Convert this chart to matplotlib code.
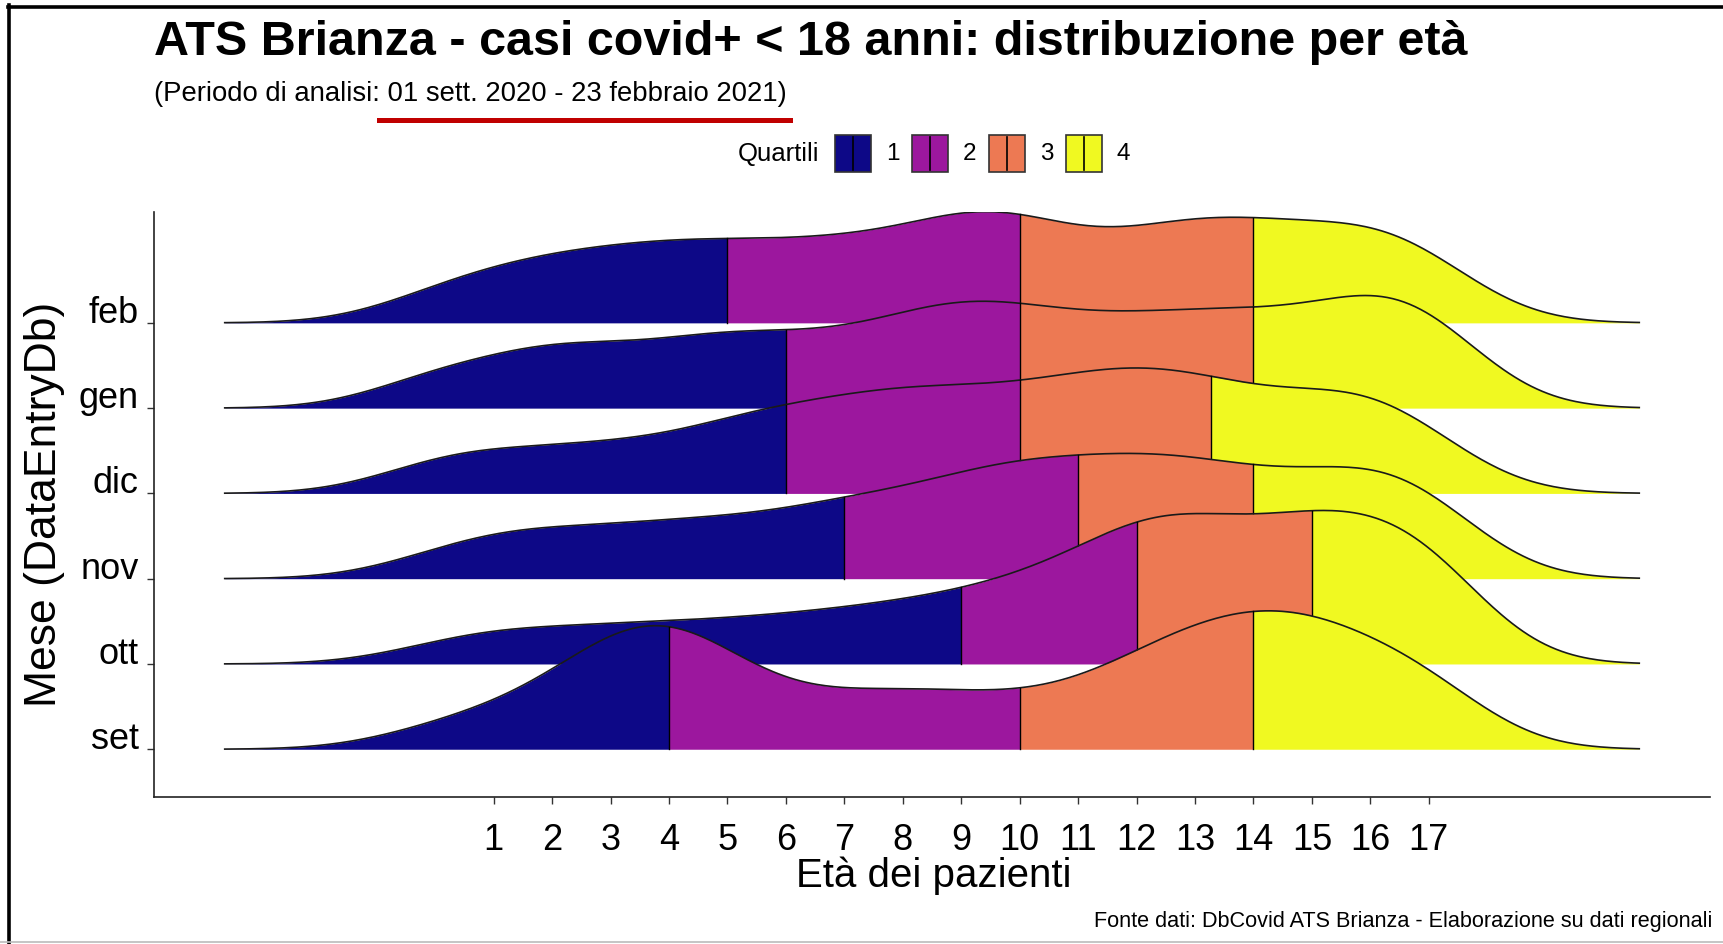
import numpy as np
import matplotlib
matplotlib.use('Agg')
import matplotlib.pyplot as plt
from matplotlib.patches import Rectangle
from matplotlib.lines import Line2D

plt.rcParams['font.family'] = ['Liberation Sans', 'DejaVu Sans']

# mesi dal basso verso l'alto
mesi = ['set', 'ott', 'nov', 'dic', 'gen', 'feb']
eta = np.arange(0, 18)

# quota di casi per eta' (0..17 anni), per mille, stimata dal grafico
casi_set = [23, 23, 38, 81, 109, 55, 25, 37, 41, 35, 32, 34, 62, 83, 88, 101, 52, 79]
casi_ott = [16, 27, 19, 28, 24, 29, 30, 34, 40, 42, 57, 60, 103, 111, 54, 128, 71, 127]
casi_nov = [22, 32, 35, 28, 41, 36, 39, 55, 51, 65, 82, 69, 83, 78, 65, 59, 80, 82]
casi_dic = [36, 26, 27, 37, 26, 52, 56, 57, 72, 64, 63, 76, 82, 82, 55, 58, 83, 46]
casi_gen = [42, 15, 63, 27, 42, 55, 45, 42, 58, 78, 66, 51, 62, 57, 70, 44, 86, 97]
casi_feb = [31, 33, 47, 46, 53, 54, 45, 60, 46, 79, 85, 36, 57, 73, 67, 52, 73, 62]
casi = [casi_set, casi_ott, casi_nov, casi_dic, casi_gen, casi_feb]

# quartili (1°, mediana, 3°) per mese
q_set = [4, 10, 14]
q_ott = [9, 12, 15]
q_nov = [7, 11, 14]
q_dic = [6, 10, 13.27]
q_gen = [6, 10, 14]
q_feb = [5, 10, 14]
quartili = [q_set, q_ott, q_nov, q_dic, q_gen, q_feb]

colori = ['#0D0887', '#9C179E', '#ED7953', '#F0F921']  # plasma, 4 livelli
bw = 1.2
scala = 1.8

W, H = 1724, 944
fig = plt.figure(figsize=(W / 100, H / 100), dpi=100)


def fx(x):
    return x / W


def fy(y):
    return 1 - y / H


ax = fig.add_axes([fx(154), fy(797), fx(1710) - fx(154), fy(212) - fy(797)])


def dens(x, q):
    w = np.asarray(q, float)
    w = w / w.sum()
    x = np.atleast_1d(np.asarray(x, float))
    k = np.exp(-0.5 * ((x[:, None] - eta[None, :]) / bw) ** 2)
    return (k * w[None, :]).sum(1) / (bw * np.sqrt(2 * np.pi))


lo, hi = eta.min() - 3 * bw, eta.max() + 3 * bw
griglia = np.linspace(lo, hi, 512)
gmax = max(dens(griglia, c).max() for c in casi)

for i, m in enumerate(mesi):
    base = i + 1
    z = 30 - 4 * i
    q = casi[i]

    def hfun(x, q=q):
        return dens(x, q) / gmax * scala

    lim = [lo] + quartili[i] + [hi]
    for k in range(4):
        a, b = lim[k], lim[k + 1]
        xk = np.concatenate([[a], griglia[(griglia > a) & (griglia < b)], [b]])
        ax.fill_between(xk, base, base + hfun(xk), color=colori[k], lw=0, zorder=z)
    ax.plot(griglia, base + hfun(griglia), color='#1a1a1a', lw=1.2, zorder=z + 1)
    for b in quartili[i]:
        ax.plot([b, b], [base, base + hfun(b)[0]], color='black', lw=1.0, zorder=z + 1)

pad = 0.05 * (hi - lo)
ax.set_xlim(lo - pad, hi + pad)
ax.set_ylim(0.44, 7.30)
ax.set_xticks(range(1, 18))
ax.set_yticks(range(1, 7))
ax.set_yticklabels(mesi)
for s in ['top', 'right']:
    ax.spines[s].set_visible(False)
for s in ['left', 'bottom']:
    ax.spines[s].set_linewidth(1.2)
    ax.spines[s].set_color('#222222')
ax.tick_params(axis='both', length=5, width=1, color='#333333', labelsize=26, labelcolor='black')
ax.tick_params(axis='x', pad=14)
ax.tick_params(axis='y', pad=6)
plt.setp(ax.get_yticklabels(), va='baseline')

fig.text(fx(154), fy(55), 'ATS Brianza - casi covid+ < 18 anni: distribuzione per età',
         fontsize=34.9, fontweight='bold', ha='left', va='baseline')
fig.text(fx(154), fy(101), '(Periodo di analisi: 01 sett. 2020 - 23 febbraio 2021)',
         fontsize=19.8, ha='left', va='baseline')
fig.add_artist(Line2D([fx(379), fx(790)], [fy(119.5), fy(119.5)], color='#C00000', lw=3.6))

fig.text(fx(819), fy(154), 'Quartili', fontsize=18.5, ha='right', va='center')
for k in range(4):
    cx = 853.5 + k * 76.7
    fig.add_artist(Rectangle((fx(cx - 18), fy(172)), fx(36), fy(135) - fy(172),
                             facecolor=colori[k], edgecolor='#333333', lw=1.2))
    fig.add_artist(Line2D([fx(cx), fx(cx)], [fy(137), fy(170)], color='black', lw=1.2))
    fig.text(fx(cx + 33), fy(154), str(k + 1), fontsize=17.5, ha='left', va='center')

fig.text(fx(934), fy(876), 'Età dei pazienti', fontsize=29, ha='center', va='center')
fig.text(fx(45), fy(504), 'Mese (DataEntryDb)', fontsize=32, ha='center', va='center', rotation=90)
fig.text(fx(1712), fy(927), 'Fonte dati: DbCovid ATS Brianza - Elaborazione su dati regionali',
         fontsize=15.6, ha='right', va='baseline')

# cornice dello screenshot
fig.add_artist(Line2D([fx(9), fx(9)], [fy(5), fy(944)], color='black', lw=2.6))
fig.add_artist(Line2D([fx(8), fx(1724)], [fy(6.5), fy(6.5)], color='black', lw=2.6))
fig.add_artist(Line2D([fx(0), fx(1724)], [fy(942), fy(942)], color='#bbbbbb', lw=1.2))

fig.savefig('out.png', dpi=100)
